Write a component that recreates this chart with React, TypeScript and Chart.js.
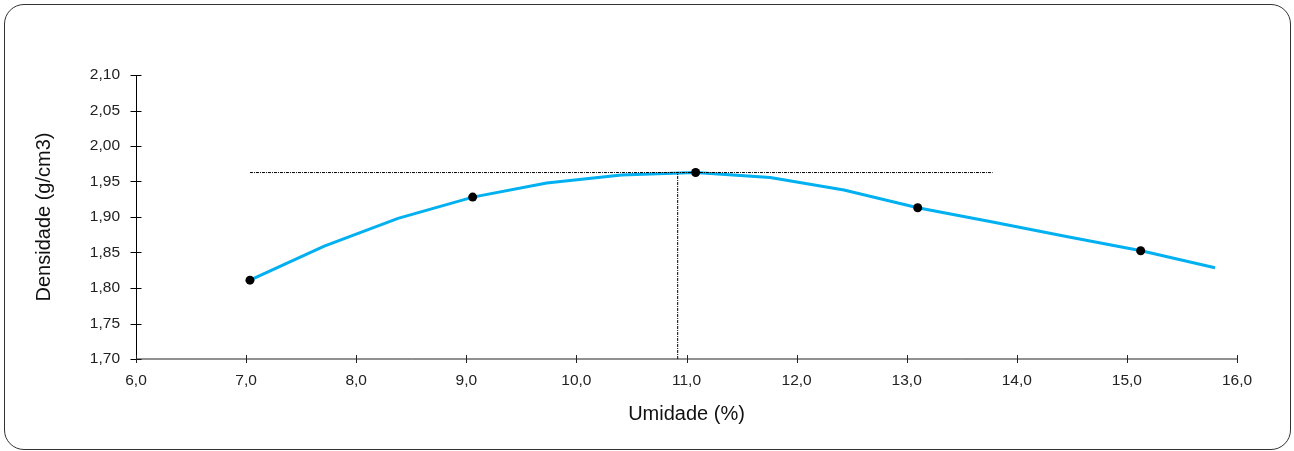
import React, { useEffect, useRef } from "react";
import { Chart, registerables } from "chart.js";

Chart.register(...registerables);

// Fitted curve (x = umidade %, y = densidade g/cm3)
const curveX = [7.035, 7.71, 8.38, 9.06, 9.73, 10.41, 11.08, 11.76, 12.43, 13.1, 13.78, 14.45, 15.13, 15.8];
const curveY = [1.811, 1.859, 1.898, 1.928, 1.948, 1.959, 1.9626, 1.9555, 1.938, 1.913, 1.893, 1.8726, 1.8525, 1.8285];

// Measured points
const pointX = [7.035, 9.058, 11.083, 13.1, 15.125];
const pointY = [1.811, 1.928, 1.9626, 1.913, 1.8525];

// Reference lines (maximum density / optimum moisture)
const maxDensity = 1.9626;
const hLineX = [7.035, 13.78];
const optMoisture = 10.92;
const vLineY = [1.7, 1.9626];

const xTitle = "Umidade (%)";
const yTitle = "Densidade (g/cm3)";
const xMin = 6, xMax = 16, xStep = 1;
const yMin = 1.7, yMax = 2.1, yStep = 0.05;

const FONT = "'Liberation Sans', Arial, sans-serif";

const axisPlugin = {
  id: "axisCross",
  afterDraw(chart: any) {
    const { ctx, chartArea, scales } = chart;
    const xs = scales.x, ys = scales.y;
    ctx.save();
    ctx.strokeStyle = "#000";
    ctx.lineWidth = 1;
    // y axis
    const ax = Math.round(chartArea.left) + 0.5;
    ctx.beginPath();
    ctx.moveTo(ax, chartArea.top);
    ctx.lineTo(ax, chartArea.bottom);
    ctx.stroke();
    ys.ticks.forEach((t: any) => {
      const y = Math.round(ys.getPixelForValue(t.value)) + 0.5;
      ctx.beginPath();
      ctx.moveTo(ax - 6, y);
      ctx.lineTo(ax + 5, y);
      ctx.stroke();
    });
    // x axis
    const ay = Math.round(chartArea.bottom);
    ctx.strokeStyle = "#222";
    ctx.beginPath();
    ctx.moveTo(chartArea.left, ay);
    ctx.lineTo(chartArea.right, ay);
    ctx.stroke();
    xs.ticks.forEach((t: any) => {
      const x = Math.round(xs.getPixelForValue(t.value)) + 0.5;
      ctx.beginPath();
      ctx.moveTo(x, ay - 4);
      ctx.lineTo(x, ay + 4);
      ctx.stroke();
    });
    ctx.restore();
  },
};

export default function App() {
  const ref = useRef<HTMLCanvasElement | null>(null);

  useEffect(() => {
    if (!ref.current) return;
    const chart = new Chart(ref.current, {
      type: "scatter",
      data: {
        datasets: [
          {
            label: "Pontos",
            data: pointX.map((x, i) => ({ x, y: pointY[i] })),
            showLine: false,
            pointRadius: 4.5,
            pointBackgroundColor: "#000",
            pointBorderColor: "#000",
            pointBorderWidth: 0,
          },
          {
            label: "Dens. max",
            data: hLineX.map((x) => ({ x, y: maxDensity })),
            showLine: true,
            borderColor: "#000",
            borderWidth: 1,
            borderDash: [3, 1, 1, 1],
            pointRadius: 0,
          },
          {
            label: "Umid. otima",
            data: vLineY.map((y) => ({ x: optMoisture, y })),
            showLine: true,
            borderColor: "#000",
            borderWidth: 1,
            borderDash: [3, 1, 1, 1],
            pointRadius: 0,
          },
          {
            label: "Curva",
            data: curveX.map((x, i) => ({ x, y: curveY[i] })),
            showLine: true,
            borderColor: "#00B0F0",
            borderWidth: 3,
            pointRadius: 0,
            tension: 0,
          },
        ],
      },
      options: {
        animation: false,
        responsive: false,
        devicePixelRatio: 1,
        layout: { padding: { left: 32, right: 57, top: 75, bottom: 12 } },
        plugins: {
          legend: { display: false },
          tooltip: { enabled: false },
        },
        scales: {
          x: {
            type: "linear",
            min: xMin,
            max: xMax,
            grid: { display: false, drawTicks: false },
            border: { display: false },
            ticks: {
              stepSize: xStep,
              padding: 12,
              color: "#222",
              font: { family: FONT, size: 15.5 },
              callback: (v: any) => Number(v).toFixed(1).replace(".", ","),
            },
            title: {
              display: true,
              text: xTitle,
              color: "#111",
              font: { family: FONT, size: 20 },
              padding: { top: 0, bottom: 13 },
            },
            afterFit: (s: any) => {
              s.height = 80;
            },
          },
          y: {
            type: "linear",
            min: yMin,
            max: yMax,
            grid: { display: false, drawTicks: false },
            border: { display: false },
            ticks: {
              stepSize: yStep,
              padding: 16,
              color: "#222",
              font: { family: FONT, size: 15.5 },
              callback: (v: any) => Number(v).toFixed(2).replace(".", ","),
            },
            title: {
              display: true,
              text: yTitle,
              color: "#111",
              font: { family: FONT, size: 20 },
              padding: { top: 0, bottom: 0 },
            },
            afterFit: (s: any) => {
              s.width = 104;
            },
          },
        },
      },
      plugins: [axisPlugin],
    });
    return () => chart.destroy();
  }, []);

  return (
    <div style={{ position: "absolute", left: 0, top: 0, width: 1294, height: 451, background: "#fff" }}>
      <div
        style={{
          position: "absolute",
          left: 4,
          top: 4,
          width: 1287,
          height: 446,
          border: "1px solid #333",
          borderRadius: 20,
          boxSizing: "border-box",
        }}
      />
      <canvas
        ref={ref}
        width={1294}
        height={451}
        style={{ position: "absolute", left: 0, top: 0, width: 1294, height: 451 }}
      />
    </div>
  );
}
